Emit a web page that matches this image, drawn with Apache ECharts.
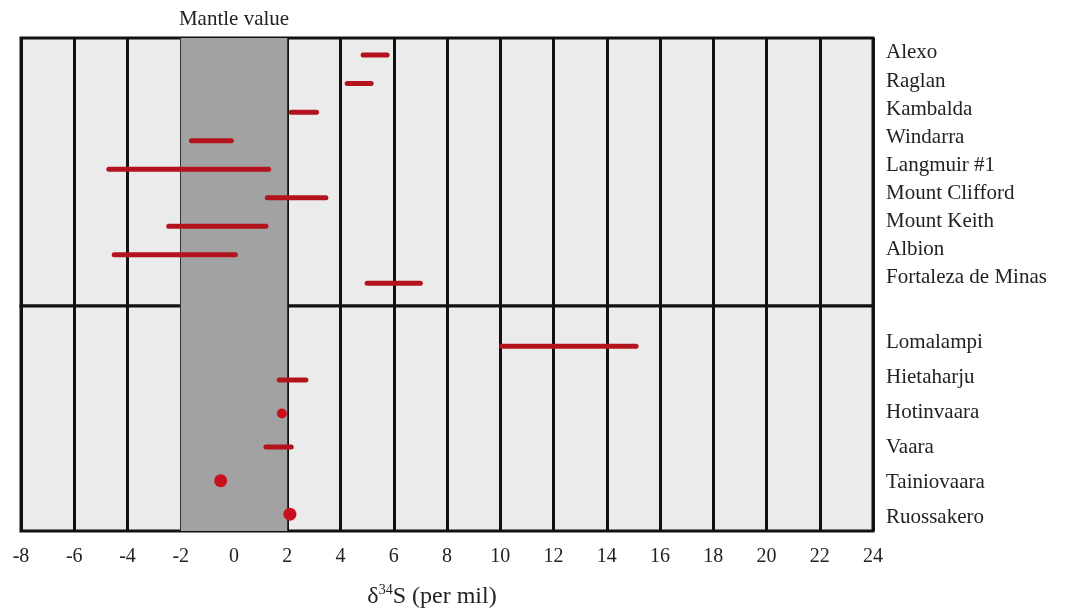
<!DOCTYPE html>
<html>
<head>
<meta charset="utf-8">
<script src="https://cdn.jsdelivr.net/npm/echarts@6/dist/echarts.min.js"></script>
<style>
  html, body { margin: 0; padding: 0; background: #fff; }
  #chart { width: 1066px; height: 609px; }
</style>
</head>
<body>
<div id="chart"></div>
<script>
// 上半部分：各矿床 δ34S 范围
const upperSites = ['Alexo', 'Raglan', 'Kambalda', 'Windarra', 'Langmuir #1',
    'Mount Clifford', 'Mount Keith', 'Albion', 'Fortaleza de Minas']
const upperLow = [4.85, 4.25, 2.15, -1.6, -4.7, 1.25, -2.45, -4.5, 5.0]
const upperHigh = [5.75, 5.15, 3.1, -0.1, 1.3, 3.45, 1.2, 0.05, 7.0]

// 下半部分：芬兰矿床（low == high 的画成点）
const lowerSites = ['Lomalampi', 'Hietaharju', 'Hotinvaara', 'Vaara', 'Tainiovaara', 'Ruossakero']
const lowerLow = [10.05, 1.7, 1.8, 1.2, -0.5, 2.1]
const lowerHigh = [15.1, 2.7, 1.8, 2.15, -0.5, 2.1]

// 地幔值范围
const mantleRange = [-2, 2]
const xTicks = [-8, 24, 2]   // min, max, interval

const font = 'Liberation Serif'
const red = '#b3131c'

function chartInit () {
    const chart = echarts.init(document.getElementById('chart'))

    function rangeData(low, high) {
        const out = []
        for (let i = 0; i < low.length; i++) {
            if (low[i] !== high[i]) out.push([low[i], high[i], i])
        }
        return out
    }
    function dotData(low, high, names) {
        const out = []
        for (let i = 0; i < low.length; i++) {
            if (low[i] === high[i]) out.push({ name: names[i], value: [low[i], i] })
        }
        return out
    }

    function renderRange(params, api) {
        const a = api.coord([api.value(0), api.value(2)])
        const b = api.coord([api.value(1), api.value(2)])
        return {
            type: 'line',
            shape: { x1: a[0], y1: a[1], x2: b[0], y2: b[1] },
            style: { stroke: red, lineWidth: 5, lineCap: 'round' }
        }
    }

    // 一个 grid 用两个 y 轴：一个画数据，一个只放右侧站名
    function yAxes(grid, names, dataMin, dataMax, labelMin, labelMax) {
        const idx = names.map((n, i) => i)
        return [{
            type: 'value', gridIndex: grid, inverse: true,
            min: dataMin, max: dataMax,
            axisLine: { show: false }, axisTick: { show: false },
            axisLabel: { show: false }, splitLine: { show: false }
        }, {
            type: 'value', gridIndex: grid, inverse: true, position: 'right',
            min: labelMin, max: labelMax,
            axisLine: { show: false }, axisTick: { show: false },
            splitLine: { show: false },
            axisLabel: {
                customValues: idx,
                margin: 13,
                fontFamily: font, fontSize: 21, color: '#222',
                formatter: v => names[Math.round(v)]
            }
        }]
    }

    function xAxis(grid, showLabel) {
        const ax = {
            type: 'value', gridIndex: grid,
            min: xTicks[0], max: xTicks[1], interval: xTicks[2],
            axisLine: { show: false }, axisTick: { show: false },
            splitLine: { show: true, lineStyle: { color: '#111', width: 3 } },
            axisLabel: { show: showLabel, margin: 16, fontFamily: font, fontSize: 20, color: '#222' }
        }
        if (showLabel) {
            ax.name = '{d|δ}{sup|34}{d|S (per mil)}'
            ax.nameLocation = 'middle'
            ax.nameGap = 52
            ax.nameTextStyle = {
                padding: [0, 30, 0, 0],
                rich: {
                    d: { fontFamily: font, fontSize: 24, color: '#222', lineHeight: 28 },
                    sup: { fontFamily: font, fontSize: 14, color: '#222', verticalAlign: 'top' }
                }
            }
        }
        return ax
    }

    const band = (label) => ({
        silent: true,
        itemStyle: { color: '#a2a2a2' },
        label: {
            show: label, position: 'top', distance: 8,
            fontFamily: font, fontSize: 21, color: '#222'
        },
        data: [[{ name: label ? 'Mantle value' : '', xAxis: mantleRange[0] }, { xAxis: mantleRange[1] }]]
    })

    const gridBase = {
        left: 21, right: 193, show: true, outerBoundsMode: 'none',
        backgroundColor: '#ebebeb', borderColor: '#111', borderWidth: 3
    }

    const option = {
        animation: false,
        grid: [
            Object.assign({ top: 38, height: 268 }, gridBase),
            Object.assign({ top: 306, height: 225 }, gridBase)
        ],
        xAxis: [xAxis(0, false), xAxis(1, true)],
        yAxis: [
            ...yAxes(0, upperSites, -0.6, 8.8, -0.53, 9.0),
            ...yAxes(1, lowerSites, -1.2, 5.5, -1.06, 5.4)
        ],
        series: [
            {
                type: 'custom', xAxisIndex: 0, yAxisIndex: 0,
                renderItem: renderRange,
                encode: { x: [0, 1], y: 2 },
                data: rangeData(upperLow, upperHigh),
                markArea: band(true)
            },
            {
                type: 'custom', xAxisIndex: 1, yAxisIndex: 2,
                renderItem: renderRange,
                encode: { x: [0, 1], y: 2 },
                data: rangeData(lowerLow, lowerHigh),
                markArea: band(false)
            },
            {
                type: 'scatter', xAxisIndex: 1, yAxisIndex: 2,
                symbolSize: (v, p) => p.name === 'Hotinvaara' ? 10 : 13,
                itemStyle: { color: '#c8101e', opacity: 1 },
                data: dotData(lowerLow, lowerHigh, lowerSites)
            }
        ]
    }
    chart.setOption(option)
}
chartInit()
</script>
</body>
</html>
